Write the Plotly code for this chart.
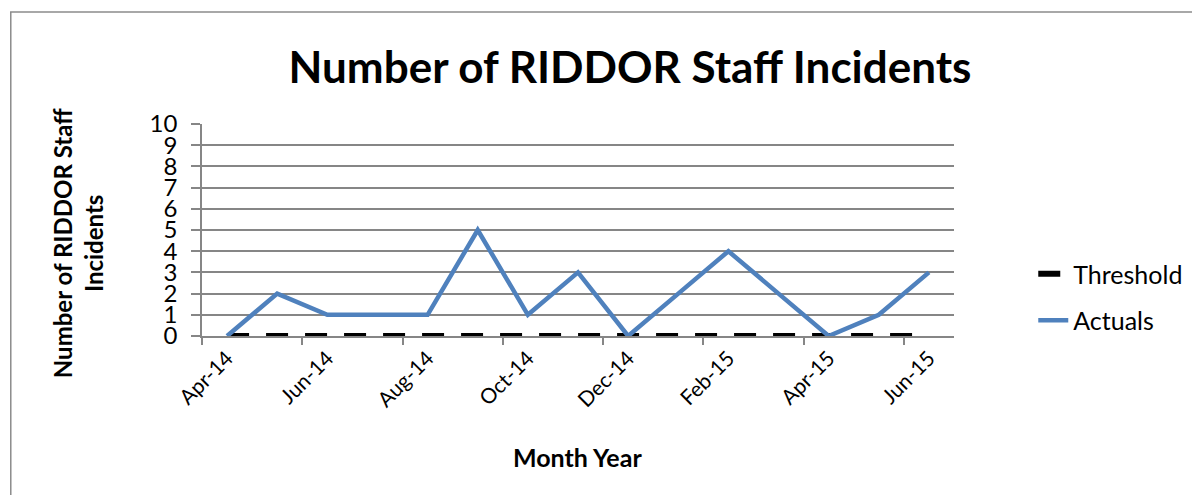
import plotly.graph_objects as go

months = ["Apr-14", "May-14", "Jun-14", "Jul-14", "Aug-14", "Sep-14", "Oct-14", "Nov-14",
          "Dec-14", "Jan-15", "Feb-15", "Mar-15", "Apr-15", "May-15", "Jun-15"]
actuals = [0, 2, 1, 1, 1, 5, 1, 3, 0, 2, 4, 2, 0, 1, 3]
threshold = [0] * len(months)
y_ticks = list(range(0, 11))

FONT = "Lato"
OFF = 8  # page body margin
W, H = 1200 - OFF, 495 - OFF
# plot area in reference (window) pixels
L, R, T, B = 202, 961, 124, 336
pw, ph = R - L, B - T

def px(x):
    return (x - L) / pw

def py(y):
    return (B - y) / ph

fig = go.Figure()
fig.add_trace(go.Scatter(
    x=months, y=threshold, mode="lines", name="Threshold",
    line=dict(color="black", width=6, dash="22px,17px"),
    legendgroup="a"))
fig.add_trace(go.Scatter(
    x=months, y=actuals, mode="lines", name="Actuals",
    line=dict(color="#4F81BD", width=4.5),
    legendgroup="b"))

fig.update_layout(
    width=W, height=H,
    margin=dict(l=L - OFF, r=W - (R - OFF), t=T - OFF, b=H - (B - OFF)),
    paper_bgcolor="white", plot_bgcolor="white",
    font=dict(family=FONT, color="black"),
    title=dict(text="<b>Number of RIDDOR Staff Incidents</b>",
               font=dict(size=44, family=FONT, color="black"),
               x=(630 - OFF) / W, xanchor="center", xref="container",
               y=1 - (68 - OFF) / H, yanchor="middle", yref="container"),
    showlegend=True,
    legend=dict(x=px(1041), xanchor="left", y=py(251), yanchor="top",
                font=dict(size=25, family=FONT, color="black"),
                tracegroupgap=11, bgcolor="rgba(0,0,0,0)"),
    xaxis=dict(type="category", range=[-0.5, 14.5], dtick=2, tick0=0,
               tickson="boundaries", ticks="outside", ticklen=7, tickcolor="#868686",
               tickwidth=1.5, showgrid=False, showline=True, linecolor="#868686",
               linewidth=1.5, tickangle=-45, layer="below traces",
               tickfont=dict(size=21, family=FONT, color="black"), zeroline=False),
    yaxis=dict(range=[0, 10], tickvals=y_ticks, ticks="outside", ticklen=9,
               tickcolor="#868686", tickwidth=1.5, showgrid=True,
               gridcolor="#868686", gridwidth=1.5, showline=True,
               linecolor="#868686", linewidth=1.5, zeroline=False,
               ticklabelstandoff=9, layer="below traces",
               tickfont=dict(size=24, family=FONT, color="black")),
    annotations=[
        dict(text="<b>Number of RIDDOR Staff<br>Incidents</b>", textangle=-90,
             x=px(77), y=py(243), xref="paper", yref="paper", showarrow=False,
             xanchor="center", yanchor="middle",
             font=dict(size=24, family=FONT, color="black"), align="center"),
        dict(text="<b>Month Year</b>", x=px(581), y=py(457), xref="paper", yref="paper",
             showarrow=False, xanchor="center", yanchor="middle",
             font=dict(size=25, family=FONT, color="black")),
    ],
    shapes=[dict(type="rect", xref="paper", yref="paper",
                 x0=px(9), y0=py(520), x1=px(1260), y1=py(12),
                 line=dict(color="#8c8c8c", width=1.5), fillcolor="rgba(0,0,0,0)",
                 layer="below")],
)

fig.write_html("out.html")
